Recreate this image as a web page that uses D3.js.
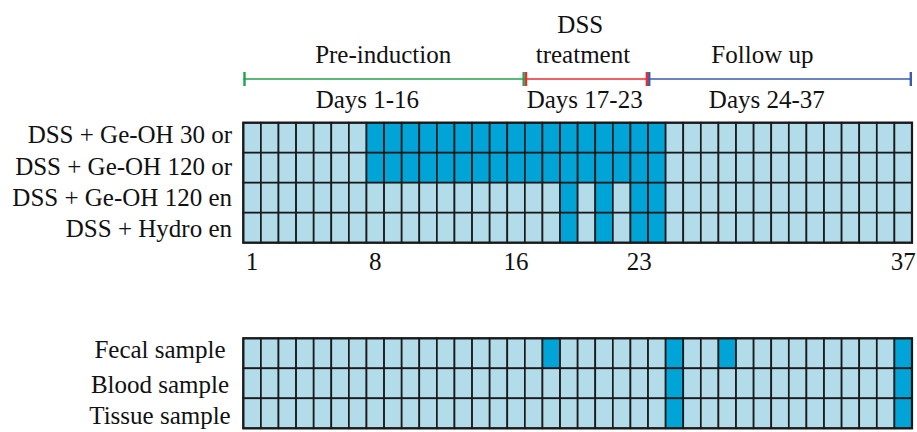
<!DOCTYPE html>
<html>
<head>
<meta charset="utf-8">
<script src="https://cdn.jsdelivr.net/npm/d3@7/dist/d3.min.js"></script>
<style>
  html, body { margin: 0; padding: 0; background: #fff; }
  svg { display: block; }
</style>
</head>
<body>
<svg id="chart" width="917" height="432"></svg>
<script>
// ---------- DATA ----------
const columns = d3.range(1, 39);               // 38 day cells drawn in the grid
const groups = ["DSS + Ge-OH 30 or", "DSS + Ge-OH 120 or", "DSS + Ge-OH 120 en", "DSS + Hydro en"];
const groupDarkCols = [
  d3.range(8, 25),          // DSS + Ge-OH 30 or
  d3.range(8, 25),          // DSS + Ge-OH 120 or
  [19, 21, 23, 24],         // DSS + Ge-OH 120 en
  [19, 21, 23, 24]          // DSS + Hydro en
];
const samples = ["Fecal sample", "Blood sample", "Tissue sample"];
const sampleDarkCols = [
  [18, 25, 28, 38],
  [25, 38],
  [25, 38]
];
const tickCols = [1, 8, 16, 23, 38];
const tickLabels = ["1", "8", "16", "23", "37"];
const phaseNames = [["Pre-induction"], ["DSS", "treatment"], ["Follow up"]];
const phaseDays = ["Days 1-16", "Days 17-23", "Days 24-37"];
const phaseStart = [0, 16, 23];
const phaseEnd = [16, 23, 38];
const phaseColors = ["#1ea44a", "#ec2b30", "#3b5aae"];

// ---------- LAYOUT (label anchors in day units on the timeline scale) ----------
const nameAt = [[7.95], [19.15, 19.3], [29.5]];
const daysAt = [7.05, 19.4, 29.75];

const svg = d3.select("#chart");
const gridLeft = 243.3, gridRight = 912;
const x = d3.scaleBand().domain(columns).range([gridLeft, gridRight]).padding(0);
const xt = d3.scaleLinear().domain([0, 38]).range([gridLeft, gridRight]);
const yTop = d3.scaleBand().domain(groups).range([122.7, 242.7]).padding(0);
const yBot = d3.scaleBand().domain(samples).range([338.3, 428.3]).padding(0);

const light = "#b3dcea", dark = "#00a4d6", line = "#1a1a1a";

function txt(sel) {
  return sel.style("font-family", '"Liberation Serif"').attr("font-size", 25).attr("fill", "#111");
}

function drawGrid(rows, darkCols, y, labelX, anchor, labelDy) {
  const g = svg.append("g");
  rows.forEach((r, i) => {
    const set = new Set(darkCols[i]);
    g.selectAll(null).data(columns).enter().append("rect")
      .attr("x", c => x(c)).attr("y", y(r))
      .attr("width", x.bandwidth()).attr("height", y.bandwidth())
      .attr("fill", c => set.has(c) ? dark : light)
      .attr("stroke", line).attr("stroke-width", 1.7);
    txt(g.append("text"))
      .attr("x", labelX).attr("y", y(r) + y.bandwidth() / 2 + labelDy[i])
      .attr("text-anchor", anchor)
      .text(r);
  });
  g.append("rect")
    .attr("x", gridLeft).attr("y", y.range()[0])
    .attr("width", gridRight - gridLeft).attr("height", y.range()[1] - y.range()[0])
    .attr("fill", "none").attr("stroke", line).attr("stroke-width", 2.2);
}

drawGrid(groups, groupDarkCols, yTop, 232, "end", [5, 7, 8, 9]);
drawGrid(samples, sampleDarkCols, yBot, 160, "middle", [5, 10, 11]);

// tick labels
txt(svg.append("g").selectAll("text").data(tickCols).enter().append("text"))
  .attr("x", c => x(c) + x.bandwidth() / 2)
  .attr("y", 270)
  .attr("text-anchor", "middle")
  .text((c, i) => tickLabels[i]);

// timeline
const tlY = 79;
const tl = svg.append("g");
phaseStart.forEach((s, i) => {
  const x0 = xt(s), x1 = xt(phaseEnd[i]);
  tl.append("line").attr("x1", x0).attr("x2", x1).attr("y1", tlY).attr("y2", tlY)
    .attr("stroke", phaseColors[i]).attr("stroke-width", 1.6);
  tl.append("line").attr("x1", x0 + 1.2).attr("x2", x0 + 1.2).attr("y1", tlY - 7).attr("y2", tlY + 7)
    .attr("stroke", phaseColors[i]).attr("stroke-width", 2.4);
  tl.append("line").attr("x1", x1 - 1.2).attr("x2", x1 - 1.2).attr("y1", tlY - 7).attr("y2", tlY + 7)
    .attr("stroke", phaseColors[i]).attr("stroke-width", 2.4);
  const names = phaseNames[i];
  names.forEach((n, j) => {
    txt(tl.append("text")).attr("x", xt(nameAt[i][j])).attr("y", 63 - (names.length - 1 - j) * 30)
      .attr("text-anchor", "middle").text(n);
  });
  txt(tl.append("text")).attr("x", xt(daysAt[i])).attr("y", 108)
    .attr("text-anchor", "middle").text(phaseDays[i]);
});
</script>
</body>
</html>
